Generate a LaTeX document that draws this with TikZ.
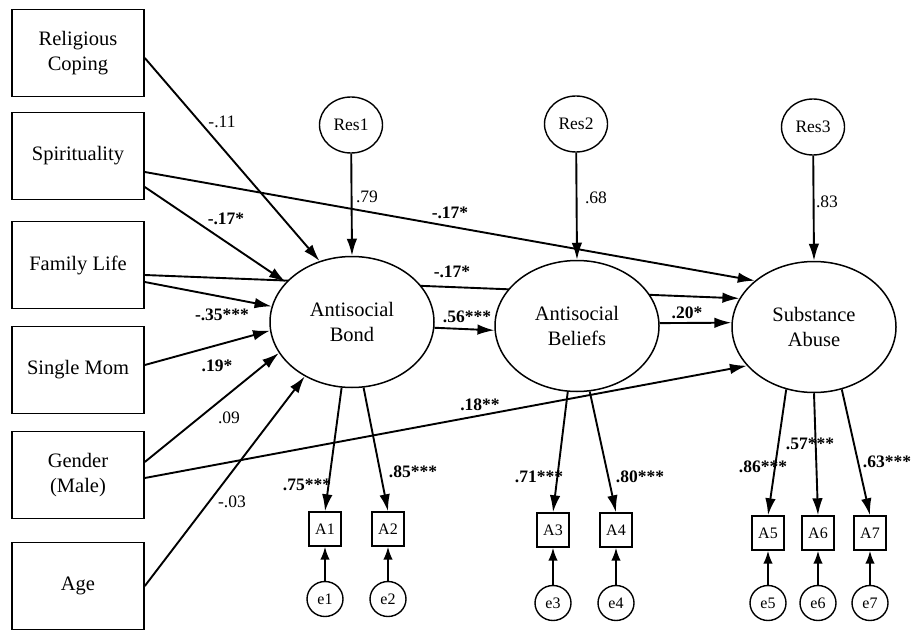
\documentclass[tikz,border=0pt]{standalone}
\usepackage{fontspec}
\setmainfont{Liberation Serif}
\usetikzlibrary{arrows.meta,shapes.geometric,backgrounds}

\begin{document}
\begin{tikzpicture}[x=1pt,y=-1pt,cause/.style={draw,line width=1.6pt,minimum width=132pt,minimum height=87pt,inner sep=0pt,align=center,font=\fontsize{20.5}{25}\selectfont},factor/.style={ellipse,draw,line width=1.5pt,fill=white,minimum width=164pt,minimum height=131pt,inner sep=0pt,align=center,font=\fontsize{20.5}{25}\selectfont},resid/.style={ellipse,draw,line width=1.4pt,fill=white,minimum width=63pt,minimum height=56pt,inner sep=0pt,font=\fontsize{17.5}{20}\selectfont},item/.style={draw,line width=1.4pt,minimum width=32pt,minimum height=34pt,inner sep=0pt,font=\fontsize{16}{18}\selectfont},err/.style={ellipse,draw,line width=1.4pt,minimum width=36pt,minimum height=35pt,inner sep=0pt,font=\fontsize{16}{18}\selectfont},effect/.style={line width=1.9pt,-{Latex[length=17pt,width=10.5pt]}},noise/.style={line width=1.9pt,-{Latex[length=13pt,width=9.5pt]}},coef/.style={font=\fontsize{17.5}{20}\selectfont},sig/.style={font=\fontsize{17.5}{20}\selectfont\bfseries}]
\useasboundingbox (0,0) rectangle (915,631);
\node[cause] (relig) at (78,53) {Religious\\Coping};
\node[cause] (spirit) at (78,156) {Spirituality};
\node[cause] (family) at (78,265) {Family Life};
\node[cause] (single) at (78,370) {Single Mom};
\node[cause] (gender) at (78,475) {Gender\\(Male)};
\node[cause] (age) at (78,586) {Age};
\node[factor] (bond) at (352,322) {Antisocial\\Bond};
\node[factor] (belief) at (577,326) {Antisocial\\Beliefs};
\node[factor] (abuse) at (814,327) {Substance\\Abuse};
\node[resid] (res1) at (351,125) {Res1};
\node[resid] (res2) at (576,124) {Res2};
\node[resid] (res3) at (813,127) {Res3};
\node[item] (a1) at (325,529) {A1};
\node[item] (a2) at (388,529) {A2};
\node[item] (a3) at (553,530) {A3};
\node[item] (a4) at (616,530) {A4};
\node[item] (a5) at (768,533) {A5};
\node[item] (a6) at (818,533) {A6};
\node[item] (a7) at (870,533) {A7};
\node[err] (e1) at (325,599) {e1};
\node[err] (e2) at (388,599) {e2};
\node[err] (e3) at (553,603) {e3};
\node[err] (e4) at (616,603) {e4};
\node[err] (e5) at (768,603) {e5};
\node[err] (e6) at (818,603) {e6};
\node[err] (e7) at (870,603) {e7};
\begin{scope}[on background layer]
\draw[effect] ([yshift=-5pt]relig.east) -- (bond.118);
\draw[effect] ([yshift=-31pt]spirit.east) -- (bond.149);
\draw[effect] ([yshift=-16pt]spirit.east) -- (abuse.142);
\draw[effect] ([yshift=-10pt]family.east) -- (abuse.159.5);
\draw[effect] ([yshift=-17pt]family.east) -- (bond.169);
\draw[effect] ([yshift=5pt]single.east) -- (bond.186);
\draw[effect] ([yshift=13pt]gender.east) -- (bond.203.5);
\draw[effect] ([yshift=-3pt]gender.east) -- (abuse.210);
\draw[effect] (age.east) -- (bond.229);
\draw[effect] (bond.-4) -- (belief.183);
\draw[effect] (belief.2) -- (abuse.177);
\draw[effect] (res1) -- (bond.north);
\draw[effect] (res2) -- (belief.north);
\draw[effect] (res3) -- (abuse.north);
\draw[effect] (bond.261) -- (a1.north);
\draw[effect] (bond.280) -- (a2.north);
\draw[effect] (belief.262) -- (a3.north);
\draw[effect] (belief.281) -- (a4.north);
\draw[effect] (abuse.246.5) -- (a5.north);
\draw[effect] (abuse.270) -- (a6.north);
\draw[effect] (abuse.294) -- (a7.north);
\end{scope}
\draw[noise] (e1) -- (a1);
\draw[noise] (e2) -- (a2);
\draw[noise] (e3) -- (a3);
\draw[noise] (e4) -- (a4);
\draw[noise] (e5) -- (a5);
\draw[noise] (e6) -- (a6);
\draw[noise] (e7) -- (a7);
\node[coef] (lrelig) at (222,122) {-.11};
\node[sig] (lspbond) at (226,219) {-.17*};
\node[sig] (lspabuse) at (450,213) {-.17*};
\node[sig] (lfamabuse) at (452,272) {-.17*};
\node[sig] (lfambond) at (222,315) {-.35***};
\node[sig] (lsingle) at (217,366) {.19*};
\node[coef] (lgenbond) at (229,418) {.09};
\node[coef] (lage) at (232,502) {-.03};
\node[sig] (lgenabuse) at (480,405) {.18**};
\node[sig] (lbondbelief) at (467,317) {.56***};
\node[sig] (lbeliefabuse) at (687,313) {.20*};
\node[coef] (lres1) at (367,197) {.79};
\node[coef] (lres2) at (596,198) {.68};
\node[coef] (lres3) at (827,202) {.83};
\node[sig] (la1) at (307,485) {.75***};
\node[sig] (la2) at (413,472) {.85***};
\node[sig] (la3) at (539,477) {.71***};
\node[sig] (la4) at (640,477) {.80***};
\node[sig] (la5) at (763,467) {.86***};
\node[sig] (la6) at (810,444) {.57***};
\node[sig] (la7) at (887,462) {.63***};
\end{tikzpicture}
\end{document}
